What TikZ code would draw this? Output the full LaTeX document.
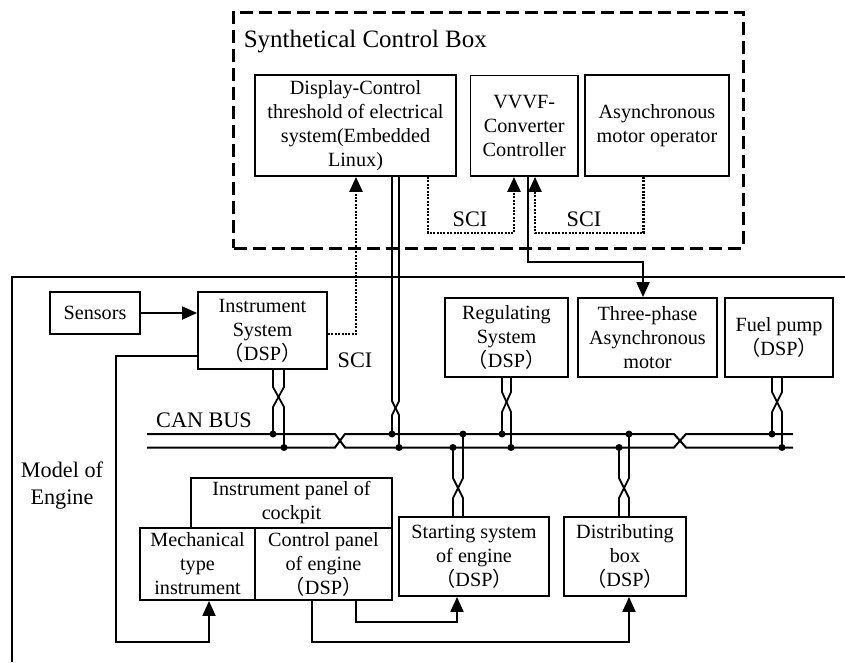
\documentclass[tikz,border=0pt]{standalone}
\usepackage{fontspec}
\setmainfont{Liberation Serif}
\newfontfamily\cjk{Noto Sans CJK SC}
\usetikzlibrary{arrows.meta}
\newcommand\bodyf{\fontsize{20.2}{24}\selectfont}
\newcommand\labf{\fontsize{22.2}{27}\selectfont}
\newcommand\titf{\fontsize{25}{30}\selectfont}
\newcommand\dsp{{\cjk （}DSP{\cjk ）}}
% twisted pair: xl, xr, start y, y before cross, y after cross, end y of left wire, end y of right wire
\newcommand\tpair[7]{%
  \draw[wire] (#1,#3) -- (#1,#4) -- (#2,#5) -- (#2,#7);
  \draw[wire] (#2,#3) -- (#2,#4) -- (#1,#5) -- (#1,#6);
}
\begin{document}
\begin{tikzpicture}[x=1pt,y=-1pt,
  blk/.style={draw,line width=1.8pt,inner sep=0pt,align=center,font=\bodyf},
  wire/.style={line width=1.8pt},
  dots/.style={line width=2.6pt,dash pattern=on 2pt off 1.4pt},
  arr/.style={-{Triangle[length=15pt,width=13pt]}},
  lab/.style={font=\labf,inner sep=0pt,align=center},
  jdot/.style={circle,fill,inner sep=0pt,minimum size=7pt}]
\useasboundingbox (0,0) rectangle (845,662);

% containers
\node[draw,line width=3pt,dash pattern=on 13pt off 6pt,minimum width=509.4pt,minimum height=236pt,inner sep=0pt] (cbox) at (488.3,130) {};
\node[font=\titf,anchor=west,inner sep=0pt] (ctitle) at (243.6,42) {Synthetical Control Box};
\coordinate (fr1) at (845,277);
\coordinate (fr2) at (12,277);
\coordinate (fr3) at (12,662);
\draw[line width=1.8pt] (fr1) -- (fr2) -- (fr3);
\node[lab] (model) at (62,485.5) {Model of\\Engine};

% boxes in control box
\node[blk,minimum width=201pt,minimum height=101pt] (disp) at (355.5,125.5) {Display-Control\\threshold of electrical\\system(Embedded\\Linux)};
\node[blk,minimum width=107.5pt,minimum height=100.5pt] (vvvf) at (524.25,125.75) {VVVF-\\Converter\\Controller};
\node[blk,minimum width=144pt,minimum height=101pt] (async) at (657,125.5) {Asynchronous\\motor operator};

% engine boxes
\node[blk,minimum width=90pt,minimum height=42pt] (sens) at (95,313) {Sensors};
\node[blk,minimum width=129pt,minimum height=77pt] (inst) at (262.5,330.5) {Instrument\\System\\\dsp};
\node[blk,minimum width=123pt,minimum height=79pt] (reg) at (506.5,337.5) {Regulating\\System\\\dsp};
\node[blk,minimum width=139pt,minimum height=79pt] (three) at (647.5,337.5) {Three-phase\\Asynchronous\\motor};
\node[blk,minimum width=108pt,minimum height=79pt] (fuel) at (779,337.5) {Fuel pump\\\dsp};
\node[blk,minimum width=201pt,minimum height=50pt] (panel) at (291.5,503) {Instrument panel of\\cockpit};
\node[blk,minimum width=115pt,minimum height=72pt] (mech) at (197.5,564) {Mechanical\\type\\instrument};
\node[blk,minimum width=137pt,minimum height=72pt] (ctrl) at (323.5,564) {Control panel\\of engine\\\dsp};
\node[blk,minimum width=150pt,minimum height=79pt] (start) at (474,556.5) {Starting system\\of engine\\\dsp};
\node[blk,minimum width=122pt,minimum height=79pt] (dist) at (625,556.5) {Distributing\\box\\\dsp};

% labels
\node[lab] (sci1) at (355,360) {SCI};
\node[lab] (sci2) at (470,219.5) {SCI};
\node[lab] (sci3) at (584,219.5) {SCI};
\node[lab] (can) at (204,420) {CAN BUS};

% CAN bus
\draw[wire,line width=2pt] (147,434) -- (335,434) -- (345,447.5) -- (674,447.5) -- (686,434) -- (793,434);
\draw[wire,line width=2pt] (147,447.5) -- (335,447.5) -- (345,434) -- (674,434) -- (686,447.5) -- (793,447.5);

% twisted pairs
\tpair{273}{284}{369}{387}{407}{434}{447.5}
\tpair{392}{399}{176}{401}{415}{434}{447.5}
\tpair{502}{511}{377}{392}{412}{434}{447.5}
\tpair{772}{782}{377}{392}{412}{434}{447.5}
\tpair{453}{463}{517}{498}{478}{447.5}{434}
\tpair{619}{629}{517}{498}{478}{447.5}{434}

% junction dots
\foreach \x in {273,392,463,502,629,772} \node[jdot] at (\x,434) {};
\foreach \x in {284,399,453,511,619,782} \node[jdot] at (\x,447.5) {};

% connectors
\draw[wire,arr] (sens.east) -- (inst.west |- sens.east);
\draw[wire,arr] (inst.west |- 0,356) -- (116,356) -- (116,642) -- (209,642) -- (209,0 |- mech.south);
\draw[dots,arr] (inst.east |- 0,334) -- (356,334) -- (356,0 |- disp.south);
\draw[dots,arr] (428,0 |- disp.south) -- (428,233) -- (514,233) -- (514,0 |- vvvf.south);
\draw[dots,arr] (643.6,0 |- async.south) -- (643.6,233) -- (535,233) -- (535,0 |- vvvf.south);
\draw[wire,arr] (528,0 |- vvvf.south) -- (528,262) -- (643,262) -- (643,0 |- three.north);
\draw[wire,arr] (312,0 |- ctrl.south) -- (312,642) -- (629,642) -- (629,0 |- dist.south);
\draw[wire,arr] (356,0 |- ctrl.south) -- (356,622) -- (457,622) -- (457,0 |- start.south);
\end{tikzpicture}
\end{document}
